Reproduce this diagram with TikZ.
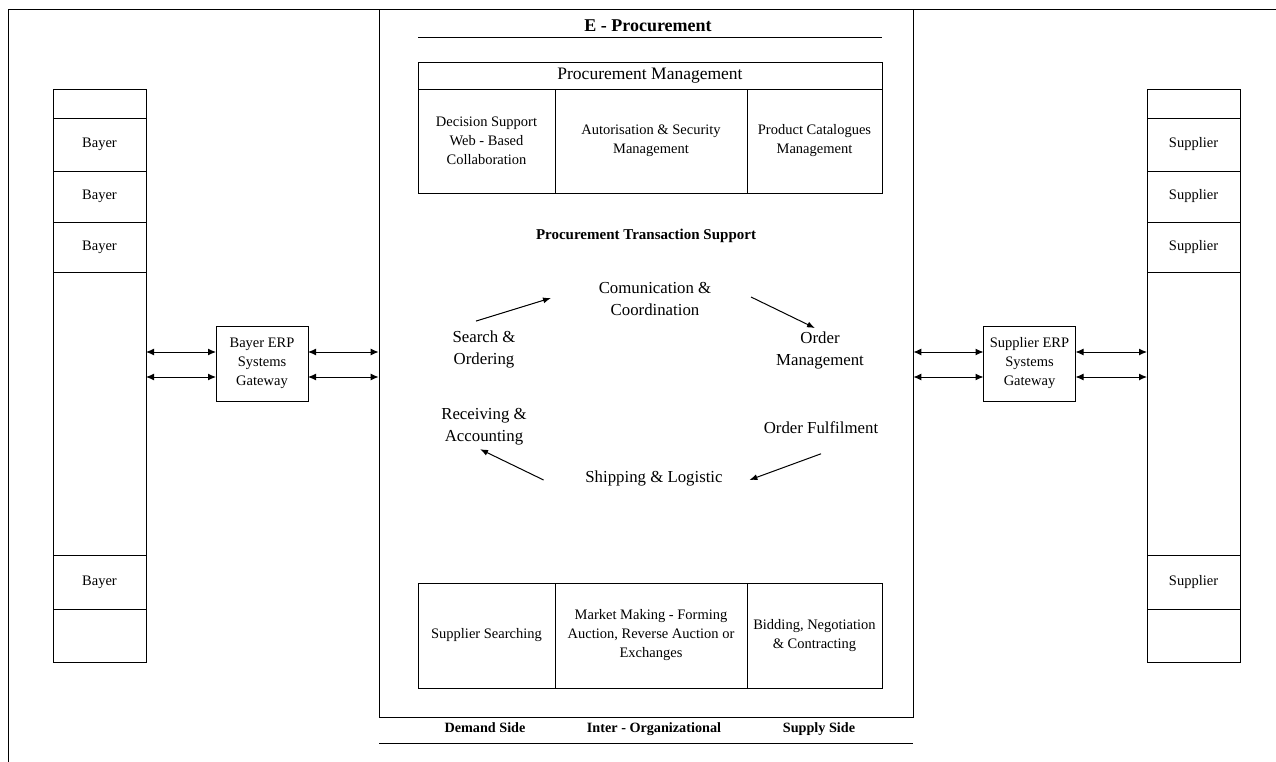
\documentclass[tikz,border=0pt]{standalone}
\usepackage{fontspec}
\setmainfont{Liberation Serif}
\usepackage{tikz}
\usetikzlibrary{arrows.meta}
\usetikzlibrary{positioning}

\begin{document}
\begin{tikzpicture}[x=1pt,y=-1pt,line width=0.9pt,
    cell/.style={draw,inner sep=2pt,outer sep=0pt,align=center,font=\fontsize{14.5}{19}\selectfont},
    stack/.style={cell,minimum width=93pt},
    gate/.style={cell,minimum width=92pt,minimum height=75pt},
    cyc/.style={align=center,font=\fontsize{16.8}{22}\selectfont},
    lab/.style={font=\fontsize{14.2}{17}\selectfont\bfseries},
    link/.style={{Latex[length=8pt,width=7pt]}-{Latex[length=8pt,width=7pt]},line width=1pt},
    flow/.style={-{Latex[length=8pt,width=6pt]},line width=1pt}]
    \useasboundingbox (0,0) rectangle (1276,762);
    \draw (8,762) -- (8,9) -- (1276,9);

    % e-procurement block
    \node[draw,inner sep=0pt,minimum width=534pt,minimum height=708pt] (eproc) at (646,363) {};
    \node[font=\fontsize{18}{22}\selectfont\bfseries] (title) at (648,26) {E - Procurement};
    \draw (418,37) -- (882,37);

    \node[cell,minimum width=464pt,minimum height=27pt,font=\fontsize{17.5}{20}\selectfont] (pm) at (650,75.5) {Procurement Management};
    \node[cell,minimum width=137pt,minimum height=104pt,below right=0pt of pm.south west] (pm1) {Decision Support\\Web - Based\\Collaboration};
    \node[cell,minimum width=192pt,minimum height=104pt,right=0pt of pm1] (pm2) {Autorisation \& Security\\Management};
    \node[cell,minimum width=135pt,minimum height=104pt,right=0pt of pm2] (pm3) {Product Catalogues\\Management};

    \node[lab,font=\fontsize{15}{18}\selectfont\bfseries] (pts) at (646,236) {Procurement Transaction Support};

    \node[cyc] (comm) at (655,299) {Comunication \&\\Coordination};
    \node[cyc] (search) at (484,349.5) {Search \&\\Ordering};
    \node[cyc] (ordmgmt) at (820,350.5) {Order\\Management};
    \node[cyc] (recv) at (484,427) {Receiving \&\\Accounting};
    \node[cyc] (fulfil) at (821,428) {Order Fulfilment};
    \node[cyc] (ship) at (654,478) {Shipping \& Logistic};

    \draw[flow] ([xshift=-8pt,yshift=6pt]search.north) -- ([xshift=-44pt,yshift=1pt]comm.west);
    \draw[flow] ([xshift=36pt,yshift=2pt]comm.east) -- ([xshift=-5pt]ordmgmt.north);
    \draw[flow] ([yshift=-16pt]fulfil.south) -- ([xshift=23pt,yshift=-2pt]ship.east);
    \draw[flow] ([xshift=-38pt,yshift=-2pt]ship.west) -- ([xshift=-4pt]recv.south);

    \node[cell,minimum width=137pt,minimum height=105pt] (ss) at (486.5,635.5) {Supplier Searching};
    \node[cell,minimum width=192pt,minimum height=105pt,right=0pt of ss] (mm) {Market Making - Forming\\Auction, Reverse Auction or\\Exchanges};
    \node[cell,minimum width=135pt,minimum height=105pt,right=0pt of mm] (bn) {Bidding, Negotiation\\\& Contracting};

    \node[lab,anchor=base] (demand) at (485,732) {Demand Side};
    \node[lab,anchor=base] (inter) at (654,732) {Inter - Organizational};
    \node[lab,anchor=base] (supply) at (819,732) {Supply Side};
    \draw (379,743) -- (913,743);

    % buyer and supplier stacks
    \foreach \t/\b/\name [count=\i] in {89/118/{},118/171/Bayer,171/222/Bayer,222/272/Bayer,272/555/{},555/609/Bayer,609/662/{}}{
      \node[stack,minimum height=\b-\t] (bay\i) at (99.5,{(\t+\b)/2}) {\name};
    }
    \foreach \t/\b/\name [count=\i] in {89/118/{},118/171/Supplier,171/222/Supplier,222/272/Supplier,272/555/{},555/609/Supplier,609/662/{}}{
      \node[stack,minimum height=\b-\t] (sup\i) at (1193.5,{(\t+\b)/2}) {\name};
    }

    \node[gate] (bgw) at (262,363.5) {Bayer ERP\\Systems\\Gateway};
    \node[gate] (sgw) at (1029.5,363.5) {Supplier ERP\\Systems\\Gateway};

    \foreach \s in {11.5,-13.5}{
      \draw[link] ([yshift=\s pt]bay5.east |- bgw.west) -- ([yshift=\s pt]bgw.west);
      \draw[link] ([yshift=\s pt]bgw.east) -- ([yshift=\s pt]bgw.east -| eproc.west);
      \draw[link] ([yshift=\s pt]eproc.east |- sgw.west) -- ([yshift=\s pt]sgw.west);
      \draw[link] ([yshift=\s pt]sgw.east) -- ([yshift=\s pt]sgw.east -| sup5.west);
    }
\end{tikzpicture}
\end{document}
